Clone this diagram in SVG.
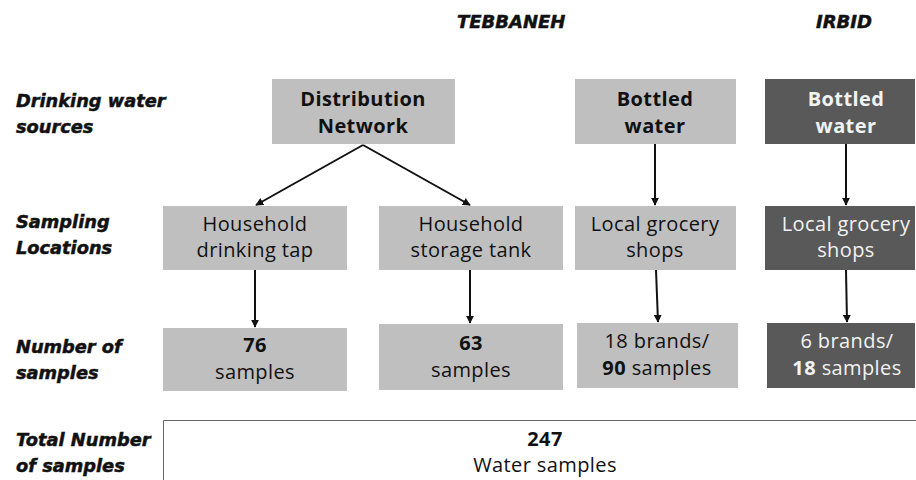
<svg xmlns="http://www.w3.org/2000/svg" width="916" height="480" viewBox="0 0 916 480">
<style>
.lbl{font-family:"DejaVu Sans",sans-serif;font-weight:bold;font-style:italic;font-size:17.8px;fill:#111;stroke:#111;stroke-width:0.5px}
.hd{font-family:"DejaVu Sans",sans-serif;font-weight:bold;font-style:italic;font-size:18px;fill:#111;stroke:#111;stroke-width:0.5px}
.lt{fill:#bfbfbf}
.dk{fill:#595959}
.t{font-family:"Open Sans",sans-serif;font-size:20px;letter-spacing:0.4px;fill:#111;text-anchor:middle}
.tw{font-family:"Open Sans",sans-serif;font-size:20px;letter-spacing:0.4px;fill:#f2f2f2;text-anchor:middle}
.b{font-weight:bold}
.c{stroke:#111;stroke-width:2;fill:none;marker-end:url(#ah)}
</style>
<defs>
<marker id="ah" viewBox="0 0 10 10" refX="9" refY="5" markerWidth="4" markerHeight="4" orient="auto" markerUnits="strokeWidth">
<path d="M0,0 L10,5 L0,10 z" fill="#111"/>
</marker>
</defs>
<rect width="916" height="480" fill="#fff"/>
<g id="headers">
<text class="hd" x="457" y="28">TEBBANEH</text>
<text class="hd" x="816" y="28">IRBID</text>
</g>
<g id="row-labels">
<text class="lbl" x="16" y="107">Drinking water</text>
<text class="lbl" x="16" y="133">sources</text>
<text class="lbl" x="16" y="228">Sampling</text>
<text class="lbl" x="16" y="254">Locations</text>
<text class="lbl" x="16" y="353">Number of</text>
<text class="lbl" x="16" y="379">samples</text>
<text class="lbl" x="16" y="446">Total Number</text>
<text class="lbl" x="16" y="472">of samples</text>
</g>
<g id="n-dist">
<rect class="lt" x="272" y="79" width="183" height="65"/>
<text class="t b" x="363" y="106">Distribution</text>
<text class="t b" x="363" y="133">Network</text>
</g>
<g id="n-bottled-t">
<rect class="lt" x="575" y="79" width="161" height="65"/>
<text class="t b" x="655" y="106">Bottled</text>
<text class="t b" x="655" y="133">water</text>
</g>
<g id="n-bottled-i">
<rect class="dk" x="765" y="79" width="150" height="65"/>
<text class="tw b" x="846" y="106">Bottled</text>
<text class="tw b" x="846" y="133">water</text>
</g>
<g id="n-tap">
<rect class="lt" x="163" y="206" width="184" height="64"/>
<text class="t" x="255" y="231">Household</text>
<text class="t" x="255" y="257">drinking tap</text>
</g>
<g id="n-tank">
<rect class="lt" x="379" y="206" width="184" height="64"/>
<text class="t" x="471" y="231">Household</text>
<text class="t" x="471" y="257">storage tank</text>
</g>
<g id="n-shops-t">
<rect class="lt" x="575" y="206" width="161" height="64"/>
<text class="t" x="655" y="231">Local grocery</text>
<text class="t" x="655" y="257">shops</text>
</g>
<g id="n-shops-i">
<rect class="dk" x="765" y="206" width="150" height="64"/>
<text class="tw" x="846" y="231">Local grocery</text>
<text class="tw" x="846" y="257">shops</text>
</g>
<g id="n-76">
<rect class="lt" x="163" y="328" width="184" height="63"/>
<text class="t b" x="255" y="352">76</text>
<text class="t" x="255" y="379">samples</text>
</g>
<g id="n-63">
<rect class="lt" x="379" y="324" width="184" height="66"/>
<text class="t b" x="471" y="350">63</text>
<text class="t" x="471" y="377">samples</text>
</g>
<g id="n-90">
<rect class="lt" x="577" y="323" width="161" height="65"/>
<text class="t" x="657" y="348">18 brands/</text>
<text class="t" x="657" y="375"><tspan class="b">90</tspan> samples</text>
</g>
<g id="n-18">
<rect class="dk" x="767" y="323" width="148" height="65"/>
<text class="tw" x="847" y="348">6 brands/</text>
<text class="tw" x="847" y="375"><tspan class="b">18</tspan> samples</text>
</g>
<g id="n-total">
<path d="M163.5,481 V420.5 H916" fill="#fff" stroke="#666" stroke-width="1"/>
<text class="t b" x="545" y="446">247</text>
<text class="t" x="545" y="472">Water samples</text>
</g>
<g id="connectors">
<path class="c" d="M363,145 L256,205"/>
<path class="c" d="M363,145 L470,205"/>
<path class="c" d="M655,144 V205"/>
<path class="c" d="M846,144 V205"/>
<path class="c" d="M255,270 V327"/>
<path class="c" d="M470,270 V323"/>
<path class="c" d="M656,270 L658,322"/>
<path class="c" d="M846,270 L847,322"/>
</g>
</svg>
